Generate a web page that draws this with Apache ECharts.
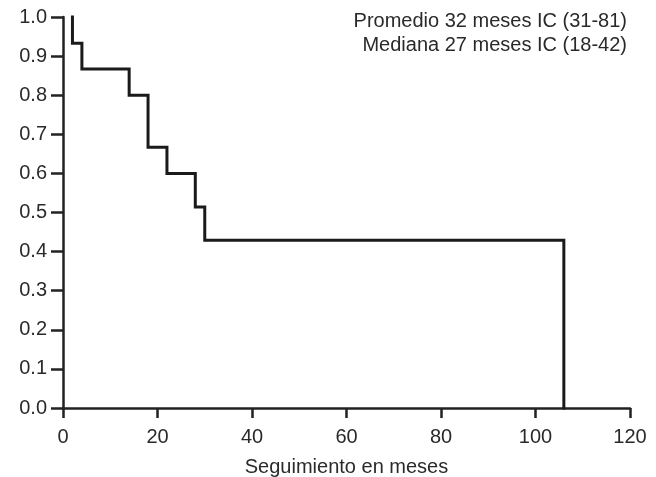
<!DOCTYPE html>
<html>
<head>
<meta charset="utf-8">
<script src="https://cdn.jsdelivr.net/npm/echarts@6/dist/echarts.min.js"></script>
<style>
  html, body { margin: 0; padding: 0; background: #fff; }
  #chart { width: 656px; height: 477px; }
</style>
</head>
<body>
<div id="chart"></div>
<script>
// tiempos de evento (meses) y supervivencia tras cada evento
const eventTimes = [2, 4, 14, 18, 22, 28, 30, 106];
const survival = [0.933, 0.867, 0.8, 0.667, 0.6, 0.514, 0.429, 0];
const startValue = 1.0;
const annotationLines = ['Promedio 32 meses IC (31-81)', 'Mediana 27 meses IC (18-42)'];

// construir la curva escalonada: bajada vertical en cada evento
const stepData = [];
let prev = startValue;
eventTimes.forEach((t, i) => {
  stepData.push([t, prev]);
  stepData.push([t, survival[i]]);
  prev = survival[i];
});

const chart = echarts.init(document.getElementById('chart'));
const font = 'Liberation Sans, Arial, Helvetica, sans-serif';

chart.setOption({
  backgroundColor: '#fff',
  animation: false,
  graphic: annotationLines.map((line, i) => ({
    type: 'text',
    right: 29,
    top: 11 + i * 24,
    style: {
      text: line,
      fontFamily: font,
      fontSize: 20,
      fill: '#2a2a2a'
    }
  })),
  grid: { left: 63, right: 26, top: 17, bottom: 69, outerBoundsMode: 'none', containLabel: false },
  xAxis: {
    type: 'value',
    min: 0,
    max: 120,
    interval: 20,
    name: 'Seguimiento en meses',
    nameLocation: 'middle',
    nameGap: 49,
    nameTextStyle: { fontFamily: font, fontSize: 20, color: '#2a2a2a' },
    axisLine: { onZero: false, lineStyle: { color: '#222', width: 2.5 } },
    axisTick: { show: true, inside: false, length: 10, lineStyle: { color: '#222', width: 2.5 } },
    axisLabel: { fontFamily: font, fontSize: 20, color: '#2a2a2a', margin: 19 },
    splitLine: { show: false }
  },
  yAxis: {
    type: 'value',
    min: 0,
    max: 1,
    interval: 0.1,
    axisLine: { show: true, onZero: false, lineStyle: { color: '#222', width: 2.5 } },
    axisTick: { show: true, inside: false, length: 12, lineStyle: { color: '#222', width: 2.5 } },
    axisLabel: {
      fontFamily: font,
      fontSize: 20,
      color: '#2a2a2a',
      margin: 16,
      formatter: (v) => v.toFixed(1)
    },
    splitLine: { show: false }
  },
  series: [
    {
      type: 'line',
      data: stepData,
      showSymbol: false,
      lineStyle: { color: '#1a1a1a', width: 3, cap: 'square', join: 'miter' },
      clip: false
    }
  ]
});
</script>
</body>
</html>
